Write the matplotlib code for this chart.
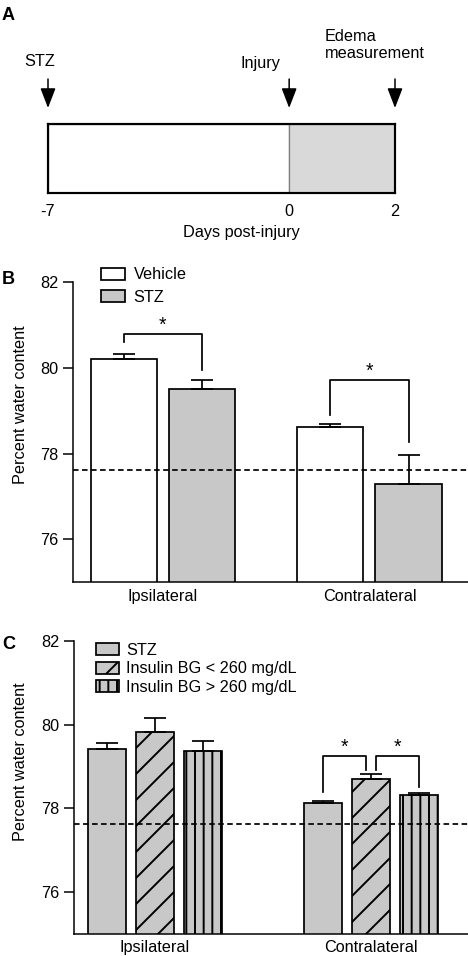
import numpy as np
import matplotlib
matplotlib.use('Agg')
import matplotlib.pyplot as plt

# Timeline (panel A)
tl_days = [-7, 0, 2]
tl_pos = [0.0, 0.695, 1.0]          # not drawn to scale in the original
tl_fill = ['white', '#d9d9d9']

# Panel B: vehicle vs STZ
sites = ['Ipsilateral', 'Contralateral']
veh_mean = [80.20, 78.63]
veh_sem = [0.12, 0.07]
stz_mean = [79.51, 77.30]
stz_sem = [0.20, 0.68]
sham_b = 77.61
b_sig_top = [80.80, 79.71]
b_sig_left = [80.60, 78.91]
b_sig_right = [79.95, 78.27]

# Panel C: STZ vs insulin groups
c_names = ['STZ', 'Insulin BG < 260 mg/dL', 'Insulin BG > 260 mg/dL']
c_stz_mean = [79.41, 78.13]
c_stz_sem = [0.16, 0.04]
ins_lo_mean = [79.82, 78.69]
ins_lo_sem = [0.33, 0.12]
ins_hi_mean = [79.36, 78.32]
ins_hi_sem = [0.24, 0.04]
sham_c = 77.63
c_sig_top = [79.25, 79.25]
c_sig_left = [78.39, 78.92]
c_sig_right = [78.92, 78.50]

plt.rcParams['font.family'] = ['Liberation Sans', 'DejaVu Sans']
plt.rcParams['font.size'] = 7.5
plt.rcParams['hatch.linewidth'] = 0.9
plt.rcParams['axes.linewidth'] = 0.7

W, H, DPI = 468, 956, 156
fig = plt.figure(figsize=(W / DPI, H / DPI), dpi=DPI)


def add_ax(x0, y0, x1, y1):
    return fig.add_axes([x0 / W, 1 - y1 / H, (x1 - x0) / W, (y1 - y0) / H])


def bracket(ax, x1, x2, y1, y2, top):
    ax.plot([x1, x1, x2, x2], [y1, top, top, y2], color='black', lw=0.8, clip_on=False)
    ax.annotate('*', xy=((x1 + x2) / 2, top), xytext=(0, 1.5), textcoords='offset points',
                ha='center', va='baseline', fontsize=9)


def style_bar_axes(ax, xlim):
    ax.set_xlim(*xlim)
    ax.set_ylim(75, 82)
    ax.set_yticks([76, 78, 80, 82])
    ax.set_xticks(np.arange(len(sites)), sites)
    ax.spines['top'].set_visible(False)
    ax.spines['right'].set_visible(False)
    ax.tick_params(axis='y', length=4.6, width=0.7, pad=2.2)
    ax.tick_params(axis='x', length=0, pad=3)
    ax.set_ylabel('Percent water content')


ekw = dict(elinewidth=0.8, capthick=0.8)

# ---- A ----
axA = add_ax(48, 124, 395, 193)
axA.barh(0.5, np.diff(tl_pos), left=tl_pos[:-1], height=1.0, color=tl_fill,
         edgecolor='#808080', linewidth=0.6)
axA.set_xlim(0, 1)
axA.set_ylim(0, 1)
for s in axA.spines.values():
    s.set_linewidth(1.0)
    s.set_zorder(5)
axA.set_yticks([])
axA.set_xticks(tl_pos, [str(d) for d in tl_days])
axA.tick_params(axis='x', length=0, pad=5)
for p in tl_pos:
    axA.annotate('', xy=(p, 1.232), xytext=(p, 1.652), annotation_clip=False,
                 arrowprops=dict(arrowstyle='-|>,head_length=0.78,head_width=0.3',
                                 mutation_scale=10, color='black', lw=0.7,
                                 shrinkA=0, shrinkB=0))
axA.text(-0.023, 1.899, 'STZ', ha='center', va='center')
axA.text(0.611, 1.877, 'Injury', ha='center', va='center')
axA.text(0.798, 2.145, 'Edema\nmeasurement', ha='left', va='center')
axA.set_xlabel('Days post-injury')
axA.xaxis.set_label_coords(0.556, -0.46)

# ---- B ----
axB = add_ax(73, 282.3, 468, 582.3)
x = np.arange(len(sites))
bw, off = 0.32, 0.189
axB.bar(x - off, veh_mean, bw, yerr=[np.zeros(2), veh_sem], color='white', edgecolor='black',
        lw=0.8, capsize=4.85, error_kw=ekw, label='Vehicle')
axB.bar(x + off, stz_mean, bw, yerr=[np.zeros(2), stz_sem], color='#c8c8c8', edgecolor='black',
        lw=0.8, capsize=4.85, error_kw=ekw, label='STZ')
axB.axhline(sham_b, color='black', ls=(0, (3.2, 2)), lw=0.8, zorder=4)
for i in range(len(sites)):
    bracket(axB, x[i] - off, x[i] + off, b_sig_left[i], b_sig_right[i], b_sig_top[i])
style_bar_axes(axB, (-0.435, 1.477))
axB.yaxis.set_label_coords(-0.114, 0.591)
axB.legend(loc='upper left', bbox_to_anchor=(0.0709, 1.05), frameon=False, borderpad=0,
           borderaxespad=0, handlelength=1.45, handleheight=0.75, handletextpad=0.56,
           labelspacing=0.45)

# ---- C ----
axC = add_ax(74, 641, 468, 933.7)
bwc, offc = 0.175, 0.222
axC.bar(x - offc, c_stz_mean, bwc, yerr=[np.zeros(2), c_stz_sem], color='#c8c8c8',
        edgecolor='black', lw=0.8, capsize=4.85, error_kw=ekw, label=c_names[0])
axC.bar(x, ins_lo_mean, bwc, yerr=[np.zeros(2), ins_lo_sem], color='#c8c8c8', hatch='//',
        edgecolor='black', lw=0.8, capsize=4.85, error_kw=ekw, label=c_names[1])
axC.bar(x + offc, ins_hi_mean, bwc, yerr=[np.zeros(2), ins_hi_sem], color='#c8c8c8', hatch='|||',
        edgecolor='black', lw=0.8, capsize=4.85, error_kw=ekw, label=c_names[2])
axC.axhline(sham_c, color='black', ls=(0, (3.2, 2)), lw=0.8, zorder=4)
# contralateral comparisons: STZ vs low BG, low BG vs high BG
legs = [(x[1] - offc, x[1] - 0.023), (x[1] + 0.023, x[1] + offc)]
for (x1, x2), yl, yr, top in zip(legs, c_sig_left, c_sig_right, c_sig_top):
    bracket(axC, x1, x2, yl, yr, top)
style_bar_axes(axC, (-0.375, 1.449))
axC.yaxis.set_label_coords(-0.117, 0.588)
axC.legend(loc='upper left', bbox_to_anchor=(0.055, 0.994), frameon=False, borderpad=0,
           borderaxespad=0, handlelength=1.41, handleheight=0.73, handletextpad=0.46,
           labelspacing=0.22)

fig.text(2 / W, 1 - 16 / H, 'A', weight='bold', fontsize=8.4, va='center', ha='left')
fig.text(2 / W, 1 - 279 / H, 'B', weight='bold', fontsize=8.4, va='center', ha='left')
fig.text(2 / W, 1 - 644 / H, 'C', weight='bold', fontsize=8.4, va='center', ha='left')

fig.savefig('out.png', dpi=DPI)
